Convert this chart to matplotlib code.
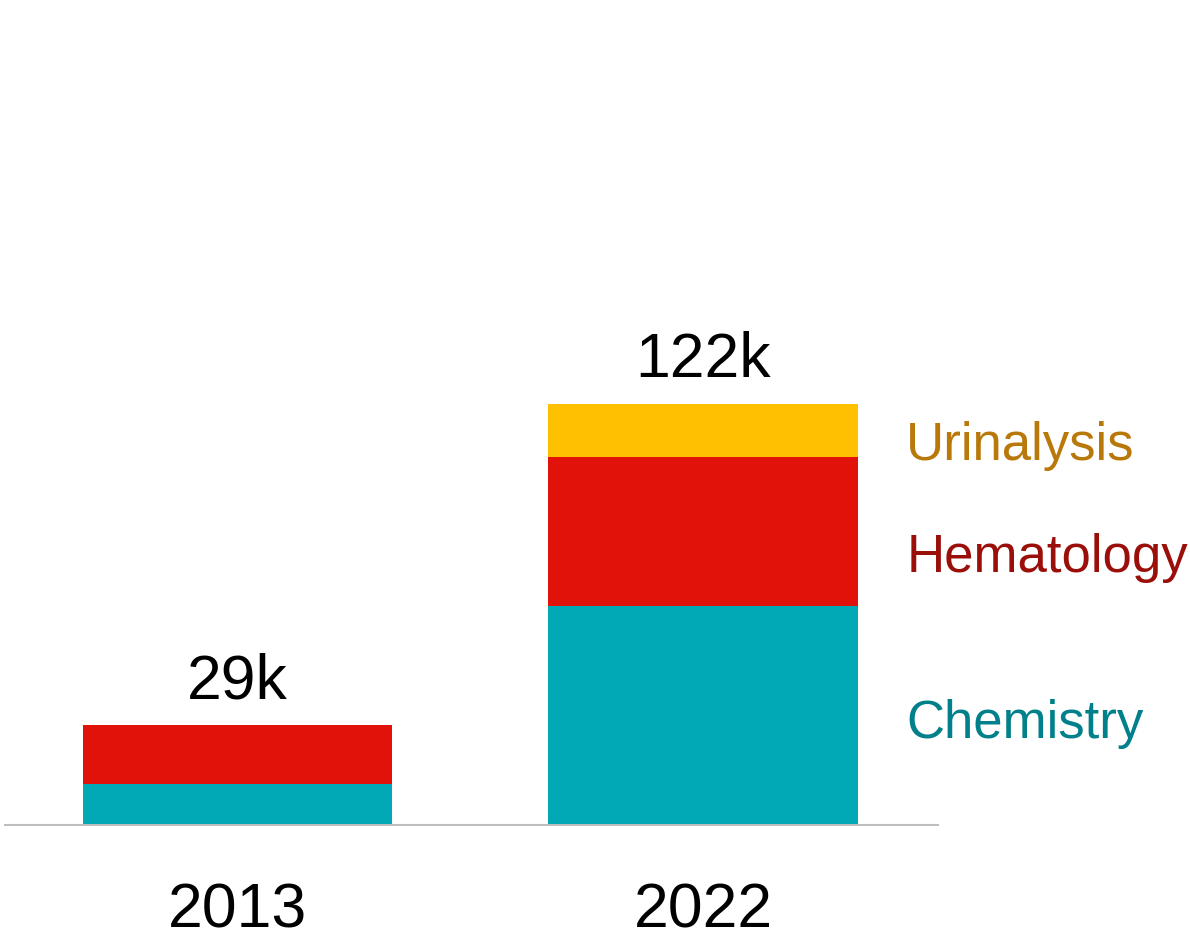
"""Stacked bars: lab test volume 2013 vs 2022"""

import numpy as np
from matplotlib import pyplot as plt

years = ['2013', '2022']
chemistry = [12.0, 63.5]
hematology = [17.0, 43.0]
urinalysis = [0.0, 15.5]
totals = ['29k', '122k']

teal, red, yellow = '#00A9B5', '#E0120A', '#FEC000'

plt.rcParams['font.family'] = ['Liberation Sans', 'DejaVu Sans']

fig = plt.figure(figsize=(11.9, 9.41), dpi=100)
ax = fig.add_axes([5 / 1190, 116 / 941, 933 / 1190, 825 / 941])

x = np.arange(len(years))
w = 0.665
chem = np.array(chemistry)
hem = np.array(hematology)
uri = np.array(urinalysis)

ax.bar(x, chem, w, color=teal)
ax.bar(x, hem, w, bottom=chem, color=red)
ax.bar(x, uri, w, bottom=chem + hem, color=yellow)

top = chem + hem + uri
for xi, t, lab in zip(x, top, totals):
    ax.annotate(lab, (xi, t), xytext=(0, 19), textcoords='offset points',
                ha='center', va='baseline', fontsize=45)

# series names next to the 2022 bar
ax.text(1.437, 105.8, 'Urinalysis', color='#B8780A', fontsize=38, va='baseline')
ax.text(1.437, 73.3, 'Hematology', color='#9B0F0A', fontsize=38, va='baseline')
ax.text(1.437, 25.2, 'Chemistry', color='#00808A', fontsize=38, va='baseline')

ax.set_xlim(-0.5, 1.505)
ax.set_ylim(0, 239)
ax.set_xticks(x)
ax.set_xticklabels(years, fontsize=45)
ax.tick_params(axis='x', length=0, pad=41)
ax.set_yticks([])
for s in ['top', 'right', 'left']:
    ax.spines[s].set_visible(False)
ax.spines['bottom'].set_color('#BFBFBF')
ax.spines['bottom'].set_linewidth(1.5)

plt.savefig('out.png', dpi=100)
